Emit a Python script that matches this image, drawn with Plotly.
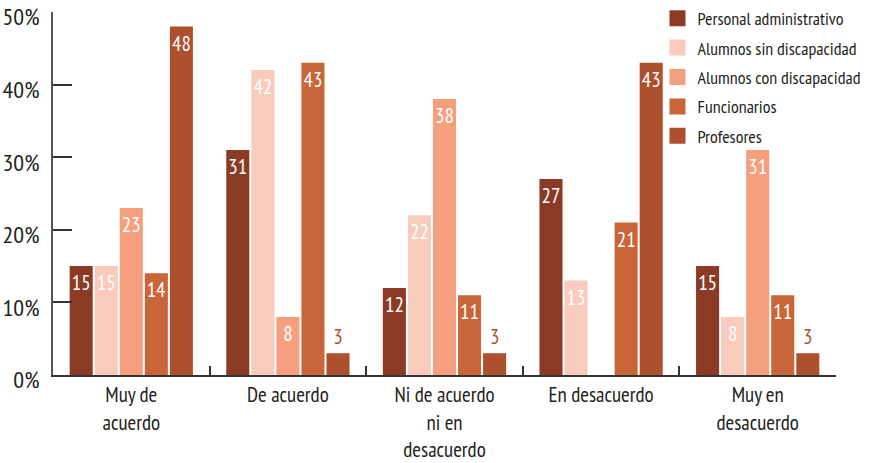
import plotly.graph_objects as go

categories = [
    "Muy de<br>acuerdo",
    "De acuerdo",
    "Ni de acuerdo<br>ni en<br>desacuerdo",
    "En desacuerdo",
    "Muy en<br>desacuerdo",
]

series_names = [
    "Personal administrativo",
    "Alumnos sin discapacidad",
    "Alumnos con discapacidad",
    "Funcionarios",
    "Profesores",
]

personal_administrativo = [15, 31, 12, 27, 15]
alumnos_sin_discapacidad = [15, 42, 22, 13, 8]
alumnos_con_discapacidad = [23, 8, 38, None, 31]
funcionarios = [14, 43, 11, 21, 11]
profesores = [48, 3, 3, 43, 3]

series_values = [
    personal_administrativo,
    alumnos_sin_discapacidad,
    alumnos_con_discapacidad,
    funcionarios,
    profesores,
]

colors = ["#8B3B25", "#F8CBBC", "#F59F7F", "#C86539", "#AC502E"]

y_tickvals = [0, 10, 20, 30, 40, 50]
y_ticktext = ["0%", "10%", "20%", "30%", "40%", "50%"]

FONT = "PT Sans Narrow, Open Sans Condensed, DejaVu Sans Condensed, sans-serif"
TEXT_COLOR = "#231F20"

fig = go.Figure()

for name, vals, col in zip(series_names, series_values, colors):
    labels = ["" if v is None else str(v) for v in vals]
    positions = ["outside" if (v is not None and v < 5) else "inside" for v in vals]
    fig.add_trace(go.Bar(
        x=categories,
        y=vals,
        name=name,
        marker=dict(color=col, line=dict(width=0)),
        text=labels,
        textposition=positions,
        textangle=0,
        insidetextanchor="end",
        constraintext="none",
        insidetextfont=dict(family=FONT, size=21, color="white"),
        outsidetextfont=dict(family=FONT, size=21, color=col),
        cliponaxis=False,
        showlegend=False,
        hoverinfo="skip",
    ))

# legend entries with larger square swatches
for i, (name, col) in enumerate(zip(series_names, colors)):
    fig.add_trace(go.Scatter(
        x=[None], y=[None],
        mode="markers",
        name=name,
        legendgroup=f"g{i}",
        marker=dict(symbol="square", size=16, color=col, line=dict(width=0)),
        showlegend=True,
    ))

fig.update_layout(
    width=872,
    height=463,
    margin=dict(l=53, r=36, t=12, b=88, autoexpand=False),
    paper_bgcolor="white",
    plot_bgcolor="white",
    barmode="group",
    bargap=0.2,
    bargroupgap=0.08,
    font=dict(family=FONT, color=TEXT_COLOR),
    legend=dict(
        xref="container", yref="container",
        x=0.754, y=1.008, xanchor="left", yanchor="top",
        font=dict(family=FONT, size=18, color=TEXT_COLOR),
        tracegroupgap=3,
        itemsizing="trace",
        bgcolor="rgba(0,0,0,0)",
    ),
    xaxis=dict(
        type="category",
        showline=True,
        linecolor="#333333",
        linewidth=2,
        ticks="inside",
        tickson="boundaries",
        ticklen=9,
        tickwidth=1.5,
        tickcolor="#333333",
        tickangle=0,
        ticklabelstandoff=0,
        tickfont=dict(family=FONT, size=21, color=TEXT_COLOR),
        showgrid=False,
        zeroline=False,
    ),
    yaxis=dict(
        range=[0, 50],
        tickvals=y_tickvals,
        ticktext=y_ticktext,
        showline=True,
        linecolor="#555555",
        linewidth=1.5,
        ticks="inside",
        ticklen=19,
        tickwidth=1.5,
        tickcolor="#333333",
        ticklabelstandoff=7,
        ticklabelshift=5,
        ticklabeloverflow="allow",
        tickfont=dict(family=FONT, size=24, color=TEXT_COLOR),
        showgrid=False,
        zeroline=False,
    ),
)

fig.write_html("out.html")
